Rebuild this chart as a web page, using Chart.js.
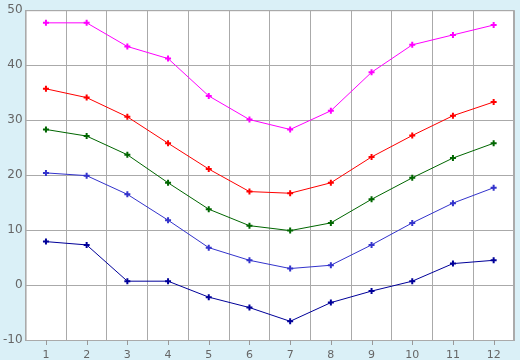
<!DOCTYPE html>
<html>
<head>
<meta charset="utf-8">
<script src="https://cdn.jsdelivr.net/npm/chart.js@4/dist/chart.umd.min.js"></script>
<style>
  body { margin: 0; background: #daf0f7; }
  #wrap { width: 520px; height: 360px; }
</style>
</head>
<body>
<div id="wrap"><canvas id="chart" width="520" height="360"></canvas></div>
<script>
const months = ["1", "2", "3", "4", "5", "6", "7", "8", "9", "10", "11", "12"];
const magentaVals = [47.7, 47.7, 43.4, 41.2, 34.4, 30.1, 28.3, 31.7, 38.7, 43.7, 45.5, 47.3];
const redVals = [35.7, 34.1, 30.6, 25.8, 21.1, 17.0, 16.7, 18.6, 23.3, 27.2, 30.8, 33.3];
const greenVals = [28.3, 27.1, 23.7, 18.6, 13.8, 10.8, 9.9, 11.3, 15.6, 19.5, 23.1, 25.8];
const blueVals = [20.4, 19.9, 16.5, 11.8, 6.8, 4.5, 3.0, 3.6, 7.3, 11.3, 14.9, 17.7];
const navyVals = [7.9, 7.3, 0.7, 0.7, -2.2, -4.1, -6.6, -3.2, -1.1, 0.7, 3.9, 4.5];

function series(data, color) {
  return {
    data: data,
    borderColor: color,
    backgroundColor: color,
    borderWidth: 1,
    pointStyle: "cross",
    pointRadius: 3,
    pointBorderWidth: 2,
    tension: 0
  };
}

// white plot area + frame
const plotFrame = {
  id: "plotFrame",
  beforeDraw(chart) {
    const a = chart.chartArea;
    chart.ctx.save();
    chart.ctx.fillStyle = "#ffffff";
    chart.ctx.fillRect(a.left, a.top, a.right - a.left, a.bottom - a.top);
    chart.ctx.restore();
  },
  afterDraw(chart) {
    const a = chart.chartArea;
    const ctx = chart.ctx;
    ctx.save();
    ctx.strokeStyle = "#aaaaaa";
    ctx.lineWidth = 1;
    ctx.strokeRect(a.left + 0.5, a.top + 0.5, a.right - a.left - 1, a.bottom - a.top);
    // small ticks under each label
    const x = chart.scales.x;
    ctx.strokeStyle = "#999999";
    months.forEach((m, i) => {
      const px = Math.round(x.getPixelForValue(i)) + 0.5;
      ctx.beginPath();
      ctx.moveTo(px, a.bottom);
      ctx.lineTo(px, a.bottom + 5);
      ctx.stroke();
    });
    ctx.restore();
  }
};

new Chart(document.getElementById("chart"), {
  type: "line",
  data: {
    labels: months,
    datasets: [
      series(magentaVals, "#ff00ff"),
      series(redVals, "#ff0000"),
      series(greenVals, "#006600"),
      series(blueVals, "#3333cc"),
      series(navyVals, "#000099")
    ]
  },
  options: {
    responsive: false,
    animation: false,
    layout: { padding: { top: 0, right: 4, left: 0, bottom: 0 } },
    plugins: { legend: { display: false }, tooltip: { enabled: false } },
    scales: {
      x: {
        offset: true,
        grid: { offset: true, color: "#aaaaaa", drawTicks: false },
        border: { color: "#aaaaaa" },
        ticks: { color: "#666666", font: { family: "DejaVu Sans", size: 11 }, padding: 9 },
        afterFit(scale) { scale.height = 20; }
      },
      y: {
        min: -10,
        max: 50,
        ticks: { stepSize: 10, color: "#666666", font: { family: "DejaVu Sans", size: 12 }, padding: 3 },
        grid: { color: "#aaaaaa", drawTicks: false },
        border: { color: "#aaaaaa" }
      }
    }
  },
  plugins: [plotFrame]
});
</script>
</body>
</html>
